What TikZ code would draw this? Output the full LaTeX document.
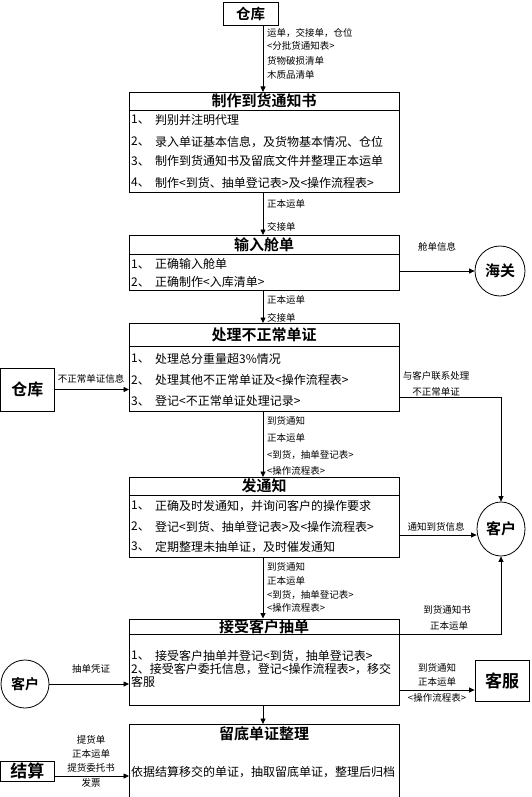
\documentclass[tikz,border=0pt]{standalone}
\usepackage{fontspec}
\setmainfont{Noto Sans CJK SC}[BoldFont={Noto Sans CJK SC Bold}]
\usetikzlibrary{arrows.meta,shapes.geometric}
\begin{document}
\begin{tikzpicture}[x=1pt,y=-1pt,
  ln/.style={line width=0.8pt},
  arr/.style={line width=0.8pt,-{Triangle[length=5.5pt,width=5pt]}},
  bigbox/.style={draw,line width=0.8pt,anchor=north west,inner sep=0pt,minimum width=270pt},
  ttl/.style={font=\fontsize{15}{15}\selectfont\bfseries,inner sep=0pt},
  itm/.style={font=\fontsize{12}{12}\selectfont,inner sep=0pt,anchor=west},
  lbl/.style={font=\fontsize{9.5}{10}\selectfont,inner sep=0pt,anchor=west},
  clbl/.style={font=\fontsize{9.5}{10}\selectfont,inner sep=0pt},
  side/.style={draw,line width=0.8pt,font=\fontsize{16}{16}\selectfont\bfseries,inner sep=0pt},
  party/.style={draw,line width=0.8pt,circle,font=\fontsize{15}{15}\selectfont\bfseries,inner sep=0pt},
]
\useasboundingbox (0,0) rectangle (531,797);
\coordinate (ax) at (263,0);
\newcommand\itmline[4]{%
  \node[itm] (#1n) at (131,#2) {#3};
  \node[itm] (#1t) at (155,#2) {#4};}

% ---------- main boxes ----------
\node[bigbox,minimum height=100pt] (b1) at (129,92) {};
\node[bigbox,minimum height=55pt] (b2) at (129,235) {};
\node[bigbox,minimum height=88pt] (b3) at (129,323) {};
\node[bigbox,minimum height=80pt] (b4) at (129,477) {};
\node[bigbox,minimum height=86.5pt] (b5) at (129,618.5) {};
\node[bigbox,minimum height=72.5pt] (b6) at (129,724) {};

\draw[ln] (b1.west |- 0,110) -- (b1.east |- 0,110);
\draw[ln] (b2.west |- 0,254) -- (b2.east |- 0,254);
\draw[ln] (b3.west |- 0,346) -- (b3.east |- 0,346);
\draw[ln] (b4.west |- 0,495.5) -- (b4.east |- 0,495.5);
\draw[ln] (b5.west |- 0,634) -- (b5.east |- 0,634);

\node[ttl] (t1) at (264,100.5) {制作到货通知书};
\node[ttl] (t2) at (264,244.5) {输入舱单};
\node[ttl] (t3) at (264,335) {处理不正常单证};
\node[ttl] (t4) at (264,486) {发通知};
\node[ttl] (t5) at (264,626.5) {接受客户抽单};
\node[ttl] (t6) at (264,734) {留底单证整理};

\itmline{a1}{120}{1、}{判别并注明代理}
\itmline{a2}{141.7}{2、}{录入单证基本信息，及货物基本情况、仓位}
\itmline{a3}{161}{3、}{制作到货通知书及留底文件并整理正本运单}
\itmline{a4}{182.7}{4、}{制作<到货、抽单登记表>及<操作流程表>}

\itmline{c1}{264.3}{1、}{正确输入舱单}
\itmline{c2}{282}{2、}{正确制作<入库清单>}

\itmline{d1}{358.8}{1、}{处理总分重量超3\%情况}
\itmline{d2}{380.1}{2、}{处理其他不正常单证及<操作流程表>}
\itmline{d3}{401}{3、}{登记<不正常单证处理记录>}

\itmline{e1}{506}{1、}{正确及时发通知，并询问客户的操作要求}
\itmline{e2}{526.7}{2、}{登记<到货、抽单登记表>及<操作流程表>}
\itmline{e3}{546.7}{3、}{定期整理未抽单证，及时催发通知}

\itmline{f1}{655.7}{1、}{接受客户抽单并登记<到货，抽单登记表>}
\node[itm] (f2t) at (131,669) {2、接受客户委托信息，登记<操作流程表>，移交};
\node[itm] (f3t) at (131,681.5) {客服};

\node[itm] (g1t) at (131,772.5) {依据结算移交的单证，抽取留底单证，整理后归档};

% ---------- outer parties ----------
\node[side,minimum width=55pt,minimum height=23pt,font=\fontsize{14.5}{14.5}\selectfont\bfseries] (ck1) at (250.5,13.5) {仓库};
\node[side,minimum width=53.5pt,minimum height=43pt] (ck2) at (27.25,389.5) {仓库};
\node[side,minimum width=54pt,minimum height=41.5pt,font=\fontsize{17}{17}\selectfont\bfseries] (ks) at (502,680.75) {客服};
\node[side,minimum width=53.5pt,minimum height=20pt,font=\fontsize{17}{17}\selectfont\bfseries] (js) at (27.25,771) {结算};
\node[party,minimum size=50pt] (hg) at (500,271) {海关};
\node[party,ellipse,minimum width=48pt,minimum height=54pt] (kh2) at (501,529) {客户};
\node[party,minimum size=48pt,font=\fontsize{14}{14}\selectfont\bfseries] (kh1) at (25,684) {客户};

% ---------- vertical flow ----------
\draw[arr] (ck1.south -| ax) -- (b1.north -| ax);
\draw[arr] (b1.south -| ax) -- (b2.north -| ax);
\draw[arr] (b2.south -| ax) -- (b3.north -| ax);
\draw[arr] (b3.south -| ax) -- (b4.north -| ax);
\draw[arr] (b4.south -| ax) -- (b5.north -| ax);
\draw[arr] (b5.south -| ax) -- (b6.north -| ax);

\node[lbl] (l01) at (267,33) {运单，交接单，仓位};
\node[lbl] (l02) at (267,46) {<分批货通知表>};
\node[lbl] (l03) at (267,61) {货物破损清单};
\node[lbl] (l04) at (267,75) {木质品清单};

\node[lbl] (l11) at (267,203.5) {正本运单};
\node[lbl] (l12) at (267,227) {交接单};

\node[lbl] (l21) at (267,300) {正本运单};
\node[lbl] (l22) at (267,317.5) {交接单};

\node[lbl] (l31) at (267,420.5) {到货通知};
\node[lbl] (l32) at (267,437.5) {正本运单};
\node[lbl] (l33) at (267,455) {<到货，抽单登记表>};
\node[lbl] (l34) at (267,470.5) {<操作流程表>};

\node[lbl] (l41) at (267,566.7) {到货通知};
\node[lbl] (l42) at (267,580.5) {正本运单};
\node[lbl] (l43) at (267,594.5) {<到货，抽单登记表>};
\node[lbl] (l44) at (267,608) {<操作流程表>};

% ---------- side connectors ----------
\draw[arr] (b2.east |- hg.west) -- (hg.west);
\node[clbl] (r1) at (437,247) {舱单信息};

\draw[arr] (b3.east |- 0,397.5) -| (kh2.north);
\node[clbl] (r2a) at (436,376) {与客户联系处理};
\node[clbl] (r2b) at (436,391.5) {不正常单证};

\draw[arr] (b4.east |- 0,535) -- (kh2.west |- 0,535);
\node[clbl] (r3) at (436,527) {通知到货信息};

\draw[arr] (b5.east |- 0,634) -| (kh2.south);
\node[clbl] (r4a) at (447,610) {到货通知书};
\node[clbl] (r4b) at (449,626) {正本运单};

\draw[arr] (b5.east |- 0,690) -- (ks.west |- 0,690);
\node[clbl] (r5a) at (437,668.3) {到货通知};
\node[clbl] (r5b) at (437,681.7) {正本运单};
\node[clbl] (r5c) at (437,698.3) {<操作流程表>};

\draw[arr] (ck2.east) -- (b3.west |- ck2.east);
\node[clbl] (s1) at (91,379) {不正常单证信息};

\draw[arr] (kh1.east) -- (b5.west |- kh1.east);
\node[clbl] (s2) at (91,669) {抽单凭证};

\draw[arr] (js.east |- 0,776) -- (b6.west |- 0,776);
\node[clbl] (s3a) at (91,739.5) {提货单};
\node[clbl] (s3b) at (91,753.5) {正本运单};
\node[clbl] (s3c) at (91,767.5) {提货委托书};
\node[clbl] (s3d) at (91,782.5) {发票};
\end{tikzpicture}
\end{document}
